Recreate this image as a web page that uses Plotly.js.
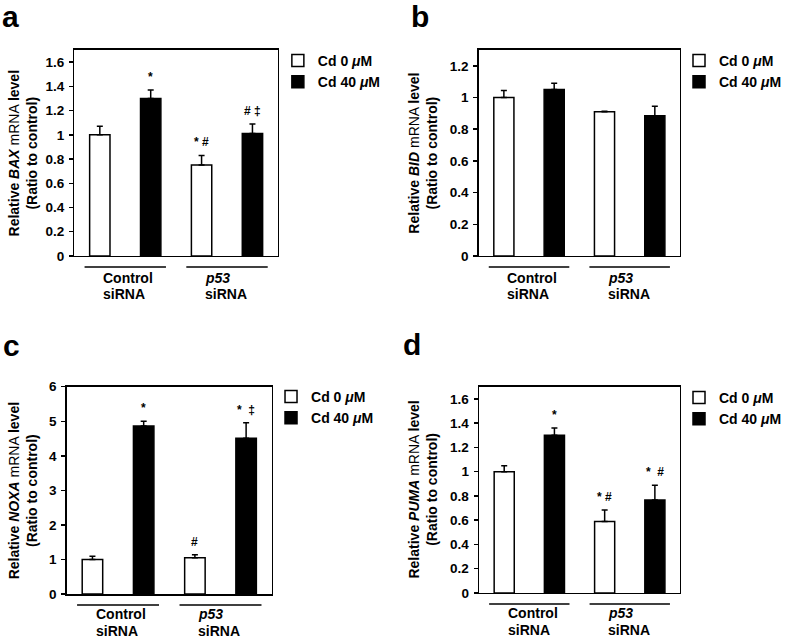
<!DOCTYPE html>
<html>
<head>
<meta charset="utf-8">
<script src="https://cdn.plot.ly/plotly-3.0.1.min.js"></script>
<style>html,body{margin:0;padding:0;background:#fff;}#chart{width:787px;height:639px;}</style>
</head>
<body>
<div id="chart"></div>
<script>
// ---- data ----
const groups = ["Control siRNA", "p53 siRNA"];
const groupLine1 = ["Control", "<i>p53</i>"];
const groupLine2 = ["siRNA", "siRNA"];
const doses = ["Cd 0 <i>μ</i>M", "Cd 40 <i>μ</i>M"];
const panelLetters = ["a", "b", "c", "d"];
const genes = ["BAX", "BID", "NOXA", "PUMA"];

const BAX_cd0 = [1.00, 0.75];
const BAX_cd0_err = [0.07, 0.08];
const BAX_cd40 = [1.30, 1.01];
const BAX_cd40_err = [0.07, 0.08];
const BAX_sig0 = ["", "*\u00a0#"];
const BAX_sig40 = ["*", "#\u00a0‡"];

const BID_cd0 = [1.00, 0.91];
const BID_cd0_err = [0.045, 0.004];
const BID_cd40 = [1.05, 0.885];
const BID_cd40_err = [0.04, 0.06];
const BID_sig0 = ["", ""];
const BID_sig40 = ["", ""];

const NOXA_cd0 = [1.00, 1.05];
const NOXA_cd0_err = [0.09, 0.09];
const NOXA_cd40 = [4.86, 4.51];
const NOXA_cd40_err = [0.14, 0.45];
const NOXA_sig0 = ["", "#"];
const NOXA_sig40 = ["*", "*\u00a0\u00a0‡"];

const PUMA_cd0 = [1.00, 0.59];
const PUMA_cd0_err = [0.048, 0.094];
const PUMA_cd40 = [1.30, 0.767];
const PUMA_cd40_err = [0.06, 0.12];
const PUMA_sig0 = ["", "*\u00a0#"];
const PUMA_sig40 = ["*", "*\u00a0\u00a0#"];

const yMax = [1.7, 1.3, 6, 1.7];
const yStep = [0.2, 0.2, 1, 0.2];

// ---- layout helpers ----
const FONT = "Liberation Sans, Arial, Helvetica, sans-serif";
const panels = [
  {c0: BAX_cd0, e0: BAX_cd0_err, c40: BAX_cd40, e40: BAX_cd40_err, s0: BAX_sig0, s40: BAX_sig40},
  {c0: BID_cd0, e0: BID_cd0_err, c40: BID_cd40, e40: BID_cd40_err, s0: BID_sig0, s40: BID_sig40},
  {c0: NOXA_cd0, e0: NOXA_cd0_err, c40: NOXA_cd40, e40: NOXA_cd40_err, s0: NOXA_sig0, s40: NOXA_sig40},
  {c0: PUMA_cd0, e0: PUMA_cd0_err, c40: PUMA_cd40, e40: PUMA_cd40_err, s0: PUMA_sig0, s40: PUMA_sig40}
];
const xDom = [[0.0966, 0.3609], [0.6217, 0.8831], [0.0868, 0.3529], [0.6222, 0.8831]];
const yDom = [[0.5994, 0.9218], [0.5994, 0.9218], [0.0704, 0.3948], [0.0720, 0.3948]];
const titleX = [23, 432, 23.5, 432];
const letterPos = [[0, 16], [418, 16], [1, 345], [410, 344]];
const legendPos = [[284, 45], [694, 45], [277, 381], [694, 382]];
const labelY = [-0.058, -0.058, -0.049, -0.049];

const W = 787, H = 639;
const traces = [];
const layout = {
  width: W, height: H,
  margin: {l: 0, r: 0, t: 0, b: 0},
  paper_bgcolor: "#fff", plot_bgcolor: "rgba(0,0,0,0)",
  barmode: "overlay",
  font: {family: FONT, color: "#000", size: 13},
  annotations: [], shapes: [],
  showlegend: true
};

panels.forEach((p, i) => {
  const n = i === 0 ? "" : String(i + 1);
  const xa = "x" + n, ya = "y" + n;
  const leg = "legend" + n;
  const xs0 = groups.map((g, gi) => gi * 2);
  const xs40 = groups.map((g, gi) => gi * 2 + 1);
  const common = {
    type: "bar", xaxis: xa, yaxis: ya, width: 0.4, legend: leg,
    hoverinfo: "skip"
  };
  traces.push(Object.assign({}, common, {
    x: xs0, y: p.c0, name: doses[0],
    marker: {color: "#ffffff", line: {color: "#000", width: 1.5}},
    error_y: {type: "data", symmetric: false, array: p.e0, arrayminus: p.e0.map(() => 0),
              color: "#000", thickness: 1.5, width: 3}
  }));
  traces.push(Object.assign({}, common, {
    x: xs40, y: p.c40, name: doses[1],
    marker: {color: "#000000", line: {color: "#000", width: 1.5}},
    error_y: {type: "data", symmetric: false, array: p.e40, arrayminus: p.e40.map(() => 0),
              color: "#000", thickness: 1.5, width: 3}
  }));

  layout["xaxis" + n] = {
    domain: xDom[i], anchor: ya, range: [-0.5, 3.5],
    showline: true, mirror: true, linecolor: "#000", linewidth: 1.5,
    ticks: "", showticklabels: false, showgrid: false, zeroline: false, fixedrange: true
  };
  layout["yaxis" + n] = {
    domain: yDom[i], anchor: xa, range: [0, yMax[i]], dtick: yStep[i], tick0: 0,
    showline: true, mirror: true, linecolor: "#000", linewidth: 1.5,
    ticks: "outside", ticklen: 4, tickwidth: 1.5, tickcolor: "#000",
    ticklabelstandoff: 2,
    tickfont: {family: FONT, size: 13.5, color: "#000", weight: "bold"},
    showgrid: false, zeroline: false, fixedrange: true
  };

  layout[leg] = {
    x: legendPos[i][0] / W, y: 1 - legendPos[i][1] / H, xanchor: "left", yanchor: "top",
    font: {family: FONT, size: 14, color: "#000", weight: "bold"},
    bgcolor: "rgba(0,0,0,0)", borderwidth: 0, traceorder: "normal"
  };

  // y-axis title
  layout.annotations.push({
    xref: "paper", yref: ya + " domain", x: titleX[i] / W, y: 0.5,
    xanchor: "center", yanchor: "middle", textangle: -90, showarrow: false,
    text: "<b>Relative <i>" + genes[i] + "</i></b> mRNA <b>level</b><br><b>(Ratio to control)</b>",
    font: {family: FONT, size: 14, color: "#000"}
  });
  // panel letter
  layout.annotations.push({
    xref: "paper", yref: "paper", x: letterPos[i][0] / W, y: 1 - letterPos[i][1] / H,
    xanchor: "left", yanchor: "middle", showarrow: false,
    text: "<b>" + panelLetters[i] + "</b>", font: {family: FONT, size: 30, color: "#000"}
  });
  // group labels + underlines
  groups.forEach((g, gi) => {
    layout.shapes.push({
      type: "line", xref: xa, yref: ya + " domain",
      x0: gi * 2 - 0.3, x1: gi * 2 + 1.3, y0: -0.053, y1: -0.053,
      line: {color: "#000", width: 1.5}
    });
    [groupLine1[gi], groupLine2[gi]].forEach((t, li) => {
      layout.annotations.push({
        xref: xa, yref: ya + " domain", x: gi * 2 + 0.03, y: labelY[i],
        xanchor: "left", yanchor: "top", align: "left", showarrow: false,
        yshift: -16.5 * li,
        text: "<b>" + t + "</b>", font: {family: FONT, size: 14, color: "#000"}
      });
    });
  });
  // significance marks
  const addSig = (arr, vals, errs, off) => {
    arr.forEach((t, gi) => {
      if (!t) return;
      layout.annotations.push({
        xref: xa, yref: ya, x: gi * 2 + off, y: vals[gi] + errs[gi],
        xanchor: "center", yanchor: "bottom", yshift: 4, showarrow: false,
        text: "<b>" + t + "</b>", font: {family: FONT, size: 12, color: "#000"}
      });
    });
  };
  addSig(p.s0, p.c0, p.e0, 0);
  addSig(p.s40, p.c40, p.e40, 1);
});

Plotly.newPlot("chart", traces, layout, {staticPlot: true, displayModeBar: false});
</script>
</body>
</html>
